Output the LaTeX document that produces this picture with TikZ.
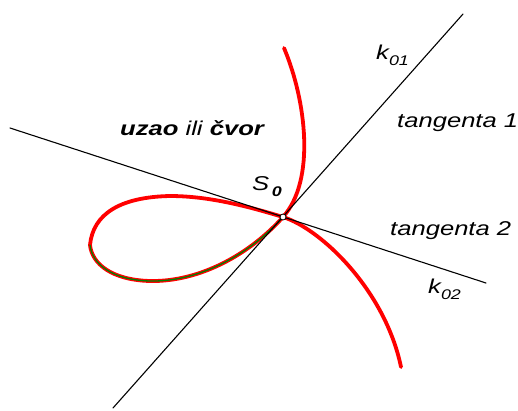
\documentclass[tikz,border=0pt]{standalone}
\usepackage{fontspec}
\setmainfont{Liberation Sans}

\newcommand\wide[1]{\scalebox{1.28}[1]{#1}}
\newcommand\sub[1]{\raisebox{-.3em}{\fontsize{14}{16}\selectfont #1}}

\begin{document}
\begin{tikzpicture}[x=1pt,y=-1pt,line cap=round,line join=round,
  tline/.style={line width=1.1pt,black},
  curve/.style={line width=3.8pt,red},
  inner/.style={line width=1.3pt,green!50!black},
  lbl/.style={font=\fontsize{20}{24}\selectfont\itshape,inner sep=0pt,anchor=base west},
  point/.style={circle,draw,fill=white,line width=.8pt,inner sep=0pt,minimum size=6pt}]
\useasboundingbox (0,0) rectangle (518,410);

\coordinate (S) at (283,217);
\coordinate (t1a) at (113,408);
\coordinate (t1b) at (463,14);
\coordinate (t2a) at (10,128);
\coordinate (t2b) at (486,283);

% The loop curve through S0.
\draw[curve] (284,48) .. controls (306,100) and (316,180) .. (S)
  .. controls (250,254) and (200,282) .. (150,281)
  .. controls (112,280) and (92,264) .. (90,245)
  .. controls (93,214) and (120,197) .. (170,196)
  .. controls (210,196) and (250,207) .. (S)
  .. controls (321,229) and (385,290) .. (401,367);
\draw[inner] (S) .. controls (250,254) and (200,282) .. (150,281)
  .. controls (112,280) and (92,264) .. (90,245);

% Both tangents.
\draw[tline] (t1a) -- (t1b);
\draw[tline] (t2a) -- (t2b);
\node[point] (s0) at (S) {};

\node[lbl] (k1) at (376,59) {\wide{k\sub{01}}};
\node[lbl] (tg1) at (397,127) {\wide{tangenta 1}};
\node[lbl] (knot) at (120,135) {\wide{\bfseries uzao \mdseries ili \bfseries čvor}};
\node[lbl] (s0lbl) at (252,190) {\wide{S\kern2pt\sub{\bfseries 0}}};
\node[lbl] (tg2) at (390,235) {\wide{tangenta 2}};
\node[lbl] (k2) at (428,293) {\wide{k\sub{02}}};

\end{tikzpicture}
\end{document}
